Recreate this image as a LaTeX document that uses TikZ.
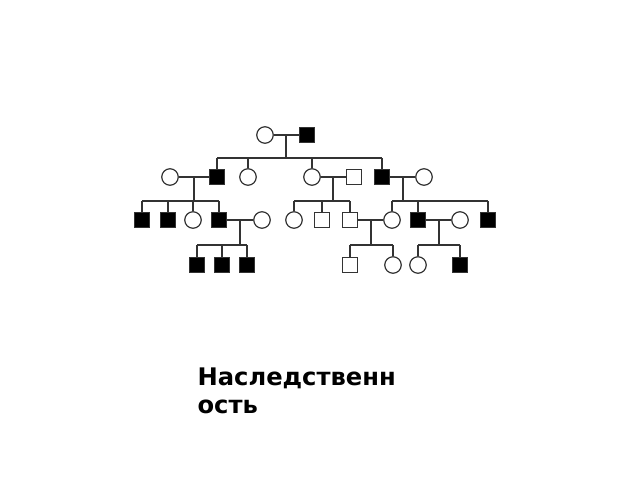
\documentclass[tikz,border=0pt]{standalone}
\usepackage{fontspec}
\newfontfamily\labelfont{DejaVu Sans}
\usetikzlibrary{calc}

\begin{document}
\begin{tikzpicture}[x=1pt,y=-1pt,line width=1.2pt,
    line/.style={draw=black!80},
    female/.style={circle,draw=black!80,fill=white,minimum size=16.5pt,inner sep=0pt},
    male/.style={rectangle,draw=black!80,fill=white,minimum size=14.5pt,inner sep=0pt},
    ill/.style={male,fill=black},]
        \useasboundingbox (0,0) rectangle (640,480);

        % generation I
        \node[female] (f1) at (265,135) {};
        \node[ill] (m1) at (307,135) {};
        \coordinate (sib1) at (0,158);

        % generation II
        \node[female] (w2) at (170,177) {};
        \node[ill] (s2) at (217,177) {};
        \node[female] (d2) at (248,177) {};
        \node[female] (d3) at (312,177) {};
        \node[male] (h3) at (354,177) {};
        \node[ill] (s4) at (382,177) {};
        \node[female] (w4) at (424,177) {};
        \coordinate (sib2) at (0,201);

        % generation III
        \node[ill] (c1) at (142,220) {};
        \node[ill] (c2) at (168,220) {};
        \node[female] (c3) at (193,220) {};
        \node[ill] (c4) at (219,220) {};
        \node[female] (w5) at (262,220) {};
        \node[female] (e1) at (294,220) {};
        \node[male] (e2) at (322,220) {};
        \node[male] (e3) at (350,220) {};
        \node[female] (g1) at (392,220) {};
        \node[ill] (g2) at (418,220) {};
        \node[female] (w6) at (460,220) {};
        \node[ill] (g3) at (488,220) {};
        \coordinate (sib3) at (0,245);

        % generation IV
        \node[ill] (k1) at (197,265) {};
        \node[ill] (k2) at (222,265) {};
        \node[ill] (k3) at (247,265) {};
        \node[male] (n1) at (350,265) {};
        \node[female] (n2) at (393,265) {};
        \node[female] (p1) at (418,265) {};
        \node[ill] (p2) at (460,265) {};

        % marriages and descent
        \foreach \a/\b/\x/\first/\last/\row in {f1/m1/286/s2/s4/sib1,w2/s2/194/c1/c4/sib2,d3/h3/333/e1/e3/sib2,s4/w4/403/g1/g3/sib2,c4/w5/240/k1/k3/sib3,e3/g1/371/n1/n2/sib3,g2/w6/439/p1/p2/sib3}{
            \draw[line] (\a.east) -- (\b.west);
            \coordinate (drop) at (\x,0 |- \a);
            \draw[line] (drop) -- (drop |- \row);
            \draw[line] (\first.north |- \row) -- (\last.north |- \row);
        }

        % children stubs
        \foreach \c/\row in {s2/sib1,d2/sib1,d3/sib1,s4/sib1,c1/sib2,c2/sib2,c3/sib2,c4/sib2,e1/sib2,e2/sib2,e3/sib2,g1/sib2,g2/sib2,g3/sib2,k1/sib3,k2/sib3,k3/sib3,n1/sib3,n2/sib3,p1/sib3,p2/sib3}
            \draw[line] (\c.north) -- (\c.north |- \row);

        \node[anchor=base west,inner sep=0pt] (title) at (197,385)
            {\labelfont\bfseries\fontsize{24.2}{28}\selectfont Наследственн};
        \node[anchor=base west,inner sep=0pt] (title2) at (197,413)
            {\labelfont\bfseries\fontsize{24.2}{28}\selectfont ость};
\end{tikzpicture}
\end{document}
